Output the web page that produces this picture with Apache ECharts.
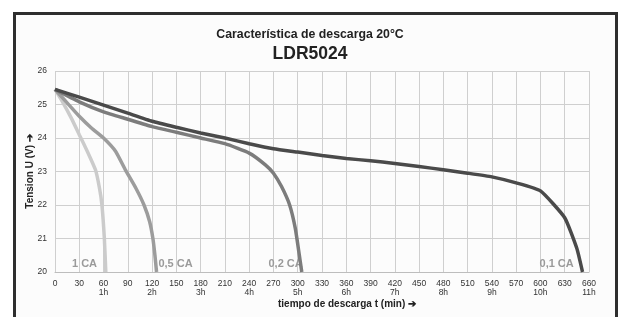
<!DOCTYPE html>
<html>
<head>
<meta charset="utf-8">
<script src="https://cdn.jsdelivr.net/npm/echarts@6/dist/echarts.min.js"></script>
<style>
html,body{margin:0;padding:0;background:#ffffff;}
#chart{width:620px;height:317px;}
</style>
</head>
<body>
<div id="chart"></div>
<script>
var titleMain = 'Característica de descarga 20°C';
var titleSub = 'LDR5024';
var yAxisName = 'Tension U (V) \u2794';
var xAxisName = 'tiempo de descarga t (min) \u2794';

var xTicks = [0,30,60,90,120,150,180,210,240,270,300,330,360,390,420,450,480,510,540,570,600,630,660];
var hourLabels = {60:'1h',120:'2h',180:'3h',240:'4h',300:'5h',360:'6h',420:'7h',480:'8h',540:'9h',600:'10h',660:'11h'};

var seriesNames = ['0,1 CA','0,2 CA','0,5 CA','1 CA'];
var seriesColors = ['#4a4a4a','#7c7c7c','#9c9c9c','#cbcbcb'];

var time01 = [0,30,60,90,120,150,180,210,240,270,300,330,360,390,420,450,480,510,540,570,600,630,645,652];
var volt01 = [25.45,25.22,24.98,24.74,24.5,24.32,24.15,24.0,23.83,23.68,23.58,23.48,23.39,23.32,23.24,23.15,23.05,22.95,22.84,22.66,22.42,21.62,20.7,20.0];

var time02 = [0,30,60,90,120,150,180,210,240,260,270,280,290,297,302,305];
var volt02 = [25.45,25.08,24.78,24.56,24.34,24.17,24.0,23.83,23.55,23.2,22.95,22.55,22.0,21.3,20.5,20.0];

var time05 = [0,15,30,45,60,75,87,100,110,117,121,123.5,125.5];
var volt05 = [25.45,25.05,24.65,24.3,24.0,23.6,23.05,22.5,22.0,21.5,21.0,20.5,20.0];

var time1 = [0,10,20,30,40,50,55,58,61,62.8];
var volt1 = [25.45,25.05,24.6,24.1,23.6,23.05,22.5,22.0,21.0,20.0];

var labelPos = [[620,20.25],[285,20.25],[149,20.25],[36.5,20.25]];

function pairs(t, v){ return t.map(function(x,i){ return [x, v[i]]; }); }
var seriesData = [pairs(time01,volt01), pairs(time02,volt02), pairs(time05,volt05), pairs(time1,volt1)];

var font = '"Liberation Sans Narrow", "Liberation Sans", Arial, sans-serif';

var chart = echarts.init(document.getElementById('chart'), null, {renderer:'canvas'});

var series = [];
for (var i = seriesNames.length - 1; i >= 0; i--) {
  series.push({
    name: seriesNames[i],
    type: 'line',
    data: seriesData[i],
    showSymbol: false,
    symbol: 'none',
    smooth: 0.15,
    lineStyle: {color: seriesColors[i], width: 3.5},
    z: 10 + (seriesNames.length - i),
    markPoint: {
      symbol: 'rect', symbolSize: 1,
      itemStyle: {color: 'rgba(0,0,0,0)'},
      label: {show: true, formatter: seriesNames[i], color: '#9a9a9a', fontWeight: 'bold', fontSize: 11, fontFamily: font},
      data: [{coord: labelPos[i]}]
    }
  });
}

chart.setOption({
  backgroundColor: '#ffffff',
  animation: false,
  graphic: [{
    type: 'rect', left: 13, top: 12, z: -10,
    shape: {width: 602, height: 330},
    style: {fill: '#fcfcfc', stroke: '#2e2e2e', lineWidth: 3}
  }],
  title: [
    {text: titleMain, left: 'center', top: 24, textStyle: {fontSize: 12.3, fontWeight: 'bold', color: '#222', fontFamily: font}},
    {text: titleSub, left: 'center', top: 40, textStyle: {fontSize: 17.5, fontWeight: 'bold', color: '#222', fontFamily: font}}
  ],
  grid: {left: 55, right: 31, top: 71, bottom: 45, containLabel: false},
  xAxis: {
    type: 'value', min: 0, max: 660, interval: 30,
    name: xAxisName, nameLocation: 'middle', nameGap: 27, nameMoveOverlap: false,
    nameTextStyle: {fontSize: 10, fontWeight: 'bold', color: '#222', fontFamily: font, padding: [0,0,0,50]},
    axisLine: {show: true, lineStyle: {color: '#bdbdbd', width: 1}},
    axisTick: {show: false},
    axisLabel: {
      fontSize: 8.5, color: '#333', fontFamily: font, margin: 7, lineHeight: 9,
      formatter: function(v){ return hourLabels[v] ? v + '\n' + hourLabels[v] : String(v); }
    },
    splitLine: {show: true, lineStyle: {color: '#cfcfcf', width: 1}}
  },
  yAxis: {
    type: 'value', min: 20, max: 26, interval: 1,
    name: yAxisName, nameLocation: 'middle', nameGap: 20, nameRotate: 90, nameMoveOverlap: false,
    nameTextStyle: {fontSize: 10, fontWeight: 'bold', color: '#222', fontFamily: font},
    axisLine: {show: false},
    axisTick: {show: false},
    axisLabel: {fontSize: 8.5, color: '#333', fontFamily: font, margin: 8},
    splitLine: {show: true, lineStyle: {color: '#cfcfcf', width: 1}}
  },
  series: series
});
</script>
</body>
</html>
